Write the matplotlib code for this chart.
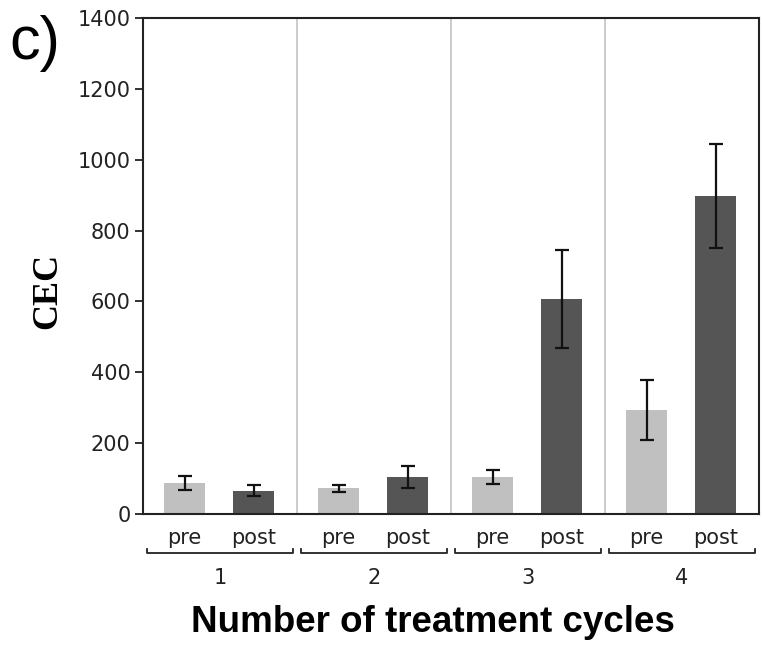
import numpy as np
import matplotlib.pyplot as plt
import matplotlib.transforms as mtransforms

plt.rcParams["font.family"] = "DejaVu Sans"

# CEC counts before and after each treatment cycle
cycles = ["1", "2", "3", "4"]
phases = ["pre", "post"]
pre_mean = [88, 72, 105, 293]
pre_err = [20, 10, 19, 84]
post_mean = [66, 104, 606, 897]
post_err = [16, 32, 138, 147]

light = "#c0c0c0"
dark = "#555555"

fig = plt.figure(figsize=(7.62, 6.47), dpi=100)
ax = fig.add_axes([0.1877, 0.2056, 0.8083, 0.7664])

x = np.arange(len(cycles))
w = 0.267
ax.bar(x + 0.27, pre_mean, w, color=light, yerr=pre_err, capsize=5,
       error_kw=dict(elinewidth=1.6, capthick=1.6, ecolor="#111111"))
ax.bar(x + 0.72, post_mean, w, color=dark, yerr=post_err, capsize=5,
       error_kw=dict(elinewidth=1.6, capthick=1.6, ecolor="#111111"))

# light dividers between the cycles
for b in x[1:]:
    ax.axvline(b, color="#c8c8c8", lw=1.3, zorder=0)

ax.set_xlim(0, len(cycles))
ax.set_ylim(0, 1400)
ax.set_yticks(range(0, 1401, 200))
ax.tick_params(axis="y", labelsize=15, length=6, width=1.3, pad=3, colors="#222222")
ax.tick_params(axis="x", length=0, labelbottom=False)
for s in ax.spines.values():
    s.set_linewidth(1.5)
    s.set_color("#222222")

# phase labels, brackets and cycle numbers under the axis
trans = mtransforms.blended_transform_factory(ax.transData, ax.transAxes)
for i, c in enumerate(cycles):
    for off, p in zip([0.27, 0.72], phases):
        ax.text(i + off, -0.048, p, transform=trans, ha="center", va="center",
                fontsize=15, color="#222222")
    x0, x1 = i + 0.025, i + 0.975
    ax.plot([x0, x0, x1, x1], [-0.071, -0.079, -0.079, -0.071], transform=trans,
            color="#222222", lw=1.3, clip_on=False)
    ax.text(i + 0.5, -0.129, c, transform=trans, ha="center", va="center",
            fontsize=15, color="#222222")

fig.text(0.568, 0.038, "Number of treatment cycles", ha="center", va="center",
         fontsize=26.5, fontweight="bold", family="Liberation Sans")
fig.text(0.063, 0.55, "CEC", ha="center", va="center", rotation=90,
         fontsize=26, fontweight="bold", family="Liberation Serif")
fig.text(0.012, 0.932, "c)", ha="left", va="center", fontsize=44,
         family="Liberation Sans")

fig.savefig("out.png", dpi=100)
